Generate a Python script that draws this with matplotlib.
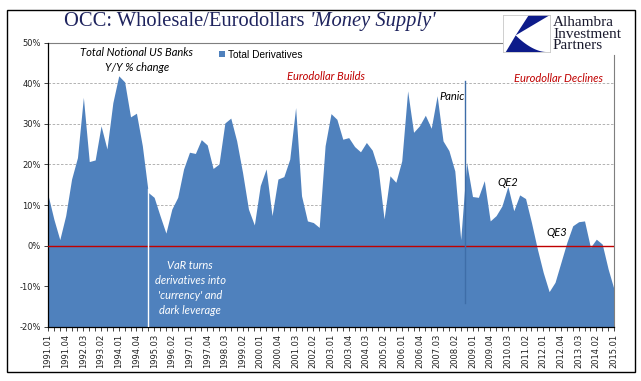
import numpy as np
import matplotlib.pyplot as plt
from matplotlib.patches import Rectangle, Polygon

# quarterly categories 1991.01 .. 2015.01
quarters = [f'{y}.{q:02d}' for y in range(1991, 2016) for q in range(1, 5)][:97]

# Total derivatives, total notional US banks, Y/Y % change
deriv_yoy = [12.5, 6.5, 1.5, 7.4, 16.4, 21.7, 36.5, 20.7, 21.1, 29.5,
             23.8, 35.2, 41.8, 40.3, 31.7, 32.6, 24.6, 13.1, 11.9, 7.4,
             3.1, 9.0, 11.9, 18.9, 23.0, 22.7, 26.1, 24.8, 19.0, 20.1,
             30.2, 31.4, 25.8, 18.0, 9.0, 5.1, 14.8, 18.9, 7.4, 16.4,
             17.0, 21.3, 34.0, 12.3, 6.1, 5.7, 4.5, 24.6, 32.5, 31.1,
             26.2, 26.6, 24.4, 23.1, 25.4, 23.5, 18.9, 6.6, 17.2, 15.6,
             20.9, 38.1, 27.9, 29.5, 32.1, 28.9, 36.9, 25.8, 23.4, 18.4,
             1.5, 20.5, 12.1, 11.9, 16.0, 6.1, 7.4, 9.8, 14.6, 8.6,
             12.5, 11.6, 5.7, -0.8, -6.6, -11.3, -9.0, -4.1, 0.8, 4.9,
             5.9, 6.1, -0.4, 1.6, 0.4, -5.7, -10.7]

var_idx = 17      # 1995 marker (white line)
panic_idx = 70.8  # 2008 panic marker

BLUE = '#4F81BD'
RED = '#C00000'
NAVY = '#1F245E'
ANNOT_FONT = 'Lato'

W, H = 641, 381
fig = plt.figure(figsize=(W / 100, H / 100), dpi=100)

def fx(px):
    return px / W

def fy(py):
    return 1 - py / H

ax = fig.add_axes([fx(48), fy(327), fx(614) - fx(48), fy(42.5) - fy(327)])
x = np.arange(len(deriv_yoy))

ax.fill_between(x, deriv_yoy, -20, color=BLUE, lw=0, zorder=2, label='Total Derivatives')
for g in [10, 20, 30, 40]:
    ax.axhline(g, color='#A6A6A6', lw=0.6, ls=(0, (3, 2)), zorder=1)
ax.axhline(0, color=RED, lw=1.0, zorder=3)
ax.plot([var_idx, var_idx], [-20, 14], color='white', lw=1.0, zorder=3)
ax.plot([panic_idx, panic_idx], [40.5, -14], color='#3E6DA8', lw=1.0, zorder=3)

ax.set_xlim(0, len(deriv_yoy) - 1)
ax.set_ylim(-20, 50)
ax.set_yticks(range(-20, 51, 10))
ax.set_yticklabels([f'{v}%' for v in range(-20, 51, 10)])
ax.set_xticks(x[::3])
ax.set_xticklabels(quarters[::3], rotation=90)
ax.set_xticks(x, minor=True)
ax.tick_params(axis='x', which='both', length=3, width=0.6, pad=2, labelsize=6, colors='#222222')
ax.tick_params(axis='y', length=3, width=0.6, pad=2, labelsize=6, colors='#222222')

for s in ['left', 'bottom']:
    ax.spines[s].set_color('black')
    ax.spines[s].set_linewidth(0.9)
ax.spines['top'].set_visible(False)
ax.spines['right'].set_visible(False)
ax.plot([0, (503 - 48) / (614 - 48)], [1, 1], transform=ax.transAxes, color='#7F7F7F',
        lw=0.8, clip_on=False)
ax.plot([1, 1], [0, (327 - 55) / (327 - 42.5)], transform=ax.transAxes, color='#7F7F7F',
        lw=0.8, clip_on=False)

# annotations
it = dict(family=ANNOT_FONT, style='italic', fontsize=8)
fig.text(fx(137), fy(60), 'Total Notional US Banks\nY/Y % change', ha='center', va='center',
         color='black', linespacing=1.35, **it)
fig.text(fx(326), fy(77), 'Eurodollar Builds', ha='center', va='center', color=RED, **it)
fig.text(fx(558), fy(79), 'Eurodollar Declines', ha='center', va='center', color=RED, **it)
fig.text(fx(452), fy(97), 'Panic', ha='center', va='center', color='black', **it)
fig.text(fx(508), fy(182), 'QE2', ha='center', va='center', color='black', **it)
fig.text(fx(557), fy(232), 'QE3', ha='center', va='center', color='black', **it)
fig.text(fx(190), fy(288), "VaR turns\nderivatives into\n'currency' and\ndark leverage",
         ha='center', va='center', color='white', linespacing=1.45, **it)

# legend
fig.legend(loc='center left', bbox_to_anchor=(fx(214), fy(54.5)), frameon=False,
           handlelength=0.55, handleheight=0.55, handletextpad=0.35, borderpad=0,
           prop=dict(family='Liberation Sans', size=7.3))

# title
t1 = fig.text(fx(64), fy(26), 'OCC: Wholesale/Eurodollars ', ha='left', va='baseline',
              family='Liberation Serif', fontsize=14.8, color=NAVY)
ax.annotate("'Money Supply'", xy=(1, 0), xycoords=t1, ha='left', va='bottom',
            family='Liberation Serif', style='italic', fontsize=14.8, color=NAVY,
            annotation_clip=False)

# outer frame
fig.add_artist(Rectangle((fx(7), fy(372)), fx(635) - fx(7), fy(10) - fy(372),
                         transform=fig.transFigure, fill=False, ec='black', lw=1.0))

# logo
lg = fig.add_axes([fx(503), fy(52), fx(550) - fx(503), fy(15) - fy(52)])
lg.set_xlim(0, 1)
lg.set_ylim(0, 1)
lg.set_xticks([])
lg.set_yticks([])
for s in lg.spines.values():
    s.set_color('#C8C8C8')
    s.set_linewidth(0.6)
lg.add_patch(Polygon([(0.55, 1), (1, 1), (0.27, 0.45)], closed=True, color='#0D1B8A', lw=0))
t = np.linspace(0, 1, 30)
curve = np.column_stack([0.27 + (0.92 - 0.27) * t, 0.45 * (1 - t) ** 1.8])
lower = np.vstack([[(0.27, 0.45), (0.06, 0.0)], curve[::-1]])
lg.add_patch(Polygon(lower, closed=True, color='#0D1B8A', lw=0))

fig.text(fx(553), fy(34), 'Alhambra\nInvestment\nPartners', ha='left', va='center',
         family='Liberation Serif', fontsize=11, linespacing=0.82, color='#1A1A2E')

fig.savefig('out.png', dpi=100)
